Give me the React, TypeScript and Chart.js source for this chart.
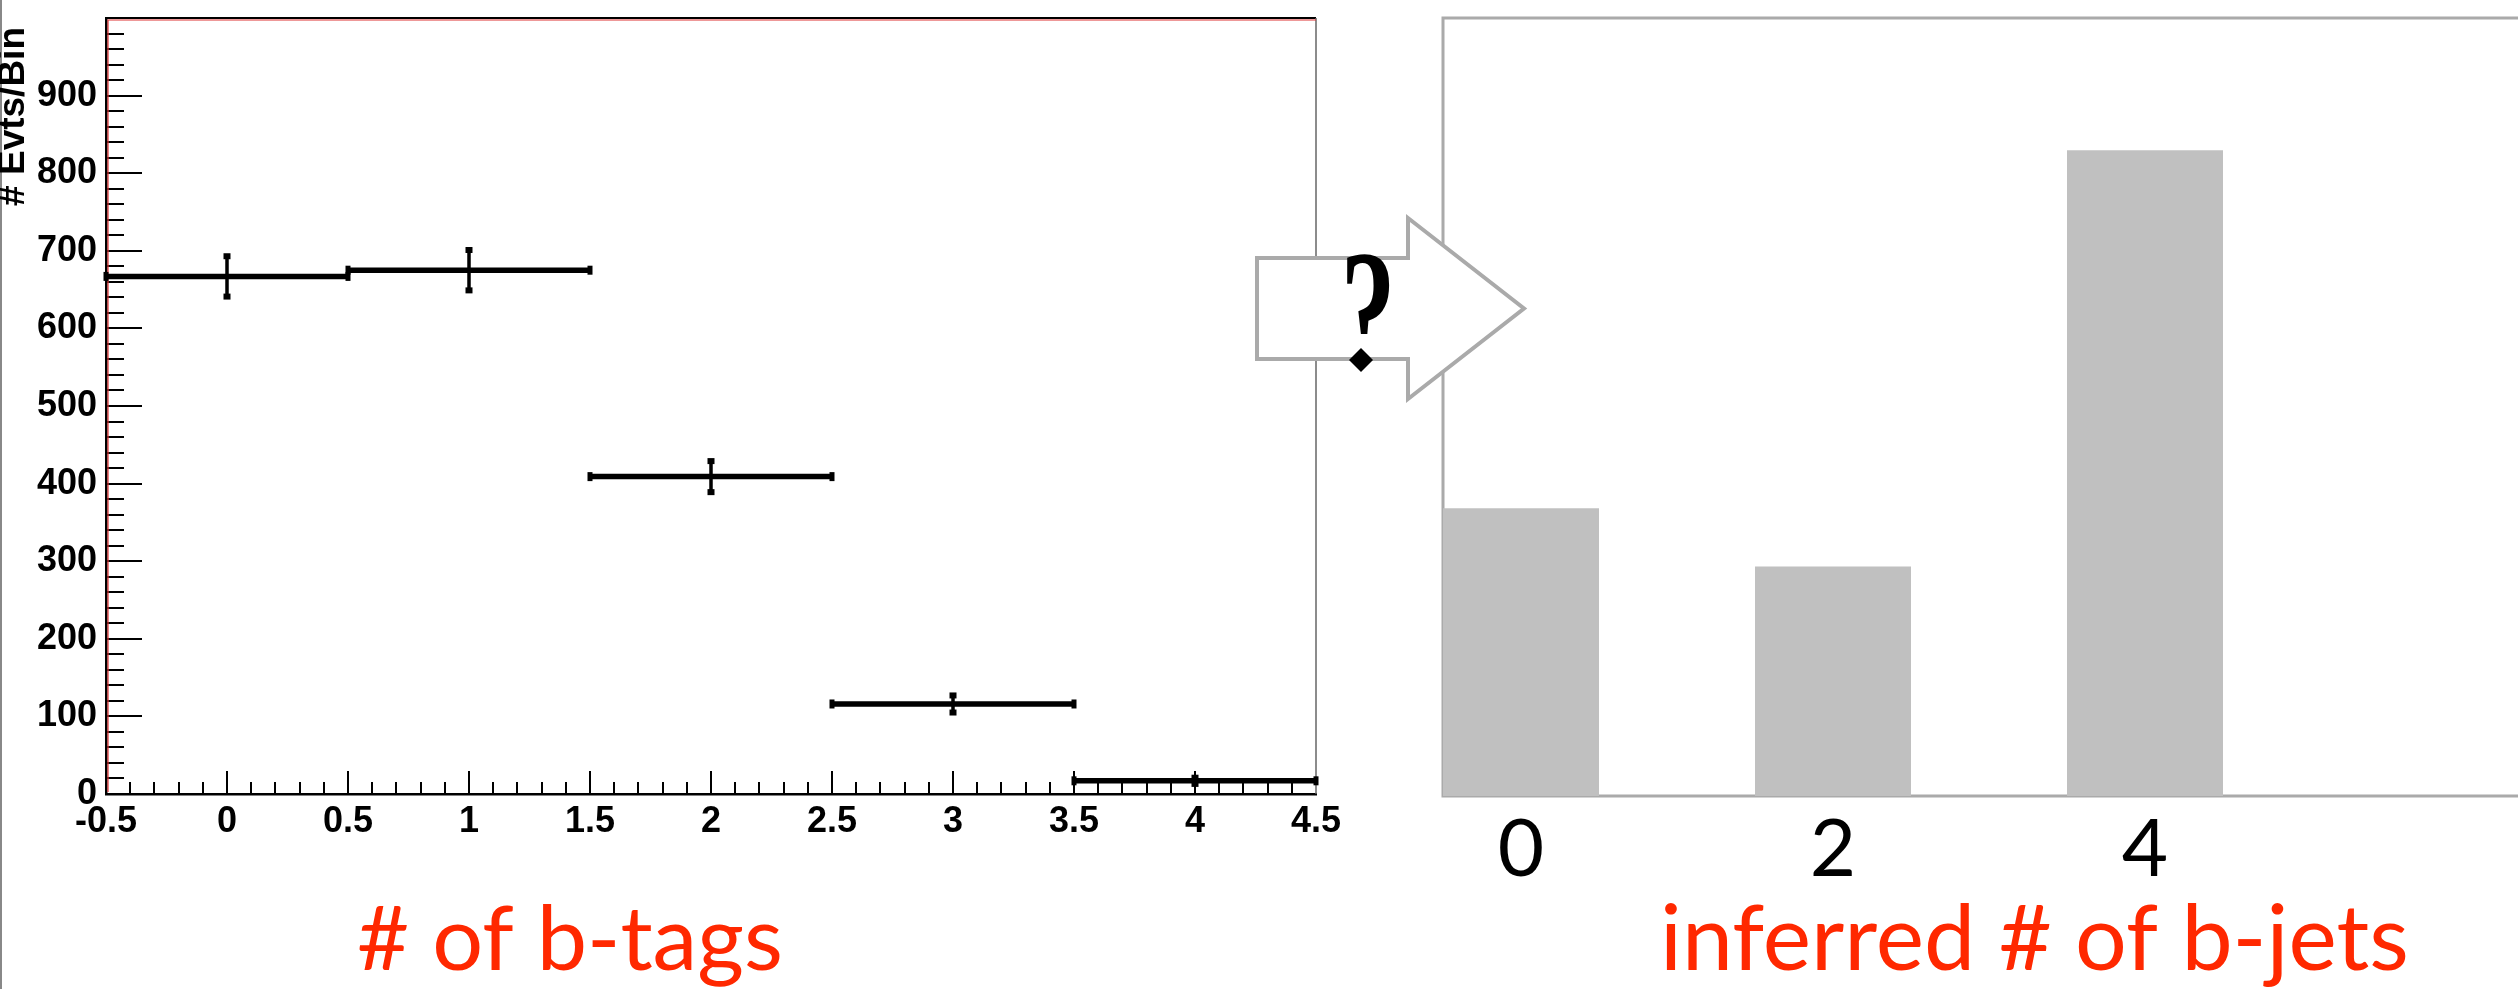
import { useEffect, useRef } from 'react';
import { Chart, registerables } from 'chart.js';

Chart.register(...registerables);

// ---- b-tag multiplicity (left histogram) ----
const tagBinCenters = [0, 1, 2, 3, 4];
const tagBinWidth = 1;
const tagCounts = [667, 675, 409, 116, 17];
const tagErrors = [26, 26, 20, 11, 4];
const tagAxisTicks = [-0.5, 0, 0.5, 1, 1.5, 2, 2.5, 3, 3.5, 4, 4.5];
const countAxisTicks = [0, 100, 200, 300, 400, 500, 600, 700, 800, 900];

// ---- inferred b-jet multiplicity (right histogram) ----
const jetBins = [0, 2, 4];
const jetCounts = [370, 295, 830];
const jetAxisTicks = [0, 2, 4];

const tagTitle = '# of b-tags';
const jetTitle = 'inferred # of b-jets';
const countTitle = '# Evts/Bin';

const RED = '#ff2800';
const AXIS_FONT = 'Liberation Sans';
const TITLE_FONT = 'Lato';

const LEFT_W = 1360;
const RIGHT_X = 1240;
const RIGHT_W = 2518 - RIGHT_X;
const H = 989;

// font size that makes `text` span `width` pixels
function fitFontSize(ctx: CanvasRenderingContext2D, text: string, font: string, width: number) {
  ctx.font = `100px ${font}`;
  return (100 * width) / ctx.measureText(text).width;
}

function buildBinLines() {
  const rows: { x: number; y: number | null }[] = [];
  tagBinCenters.forEach((c, i) => {
    rows.push({ x: c - tagBinWidth / 2, y: tagCounts[i] });
    rows.push({ x: c + tagBinWidth / 2, y: tagCounts[i] });
    rows.push({ x: c + tagBinWidth / 2, y: null });
  });
  return rows;
}

function buildErrorLines() {
  const rows: { x: number; y: number | null }[] = [];
  tagBinCenters.forEach((c, i) => {
    rows.push({ x: c, y: tagCounts[i] - tagErrors[i] });
    rows.push({ x: c, y: tagCounts[i] + tagErrors[i] });
    rows.push({ x: c, y: null });
  });
  return rows;
}

const leftDecor = {
  id: 'leftDecor',
  beforeDatasetsDraw(chart: any) {
    const { ctx, chartArea: a, scales } = chart;
    const x = scales.x;
    const y = scales.y;
    ctx.save();
    // inward tick marks
    ctx.strokeStyle = '#000';
    ctx.lineWidth = 2;
    ctx.beginPath();
    const yMinor = 20;
    const nY = Math.round((y.max - y.min) / yMinor);
    for (let k = 1; k < nY; k++) {
      const v = y.min + k * yMinor;
      const py = Math.round(y.getPixelForValue(v));
      const len = k % 5 === 0 ? 36 : 18;
      ctx.moveTo(a.left, py);
      ctx.lineTo(a.left + len, py);
    }
    const xMinor = 0.1;
    const nX = Math.round((x.max - x.min) / xMinor);
    for (let k = 1; k < nX; k++) {
      const v = x.min + k * xMinor;
      const px = Math.round(x.getPixelForValue(v));
      const len = k % 5 === 0 ? 23 : 12;
      ctx.moveTo(px, a.bottom);
      ctx.lineTo(px, a.bottom - len);
    }
    ctx.stroke();

    // frame: black top, thin grey right side, red inner edges
    ctx.lineWidth = 2;
    ctx.strokeStyle = '#000';
    ctx.beginPath();
    ctx.moveTo(a.left, a.top);
    ctx.lineTo(a.right, a.top);
    ctx.stroke();
    ctx.strokeStyle = '#666';
    ctx.lineWidth = 1.5;
    ctx.beginPath();
    ctx.moveTo(a.right, a.top);
    ctx.lineTo(a.right, a.bottom);
    ctx.stroke();
    ctx.strokeStyle = '#d33';
    ctx.lineWidth = 1.2;
    ctx.beginPath();
    ctx.moveTo(a.right, a.top + 2);
    ctx.lineTo(a.left + 2, a.top + 2);
    ctx.lineTo(a.left + 2, a.bottom - 2);
    ctx.stroke();
    ctx.restore();
  },
  afterDraw(chart: any) {
    const { ctx } = chart;
    ctx.save();
    // page edge rule
    ctx.strokeStyle = '#888';
    ctx.lineWidth = 2;
    ctx.beginPath();
    ctx.moveTo(1, 0);
    ctx.lineTo(1, H);
    ctx.stroke();

    // vertical axis title
    ctx.fillStyle = '#000';
    ctx.font = `bold 37px ${AXIS_FONT}`;
    ctx.translate(24, 27);
    ctx.rotate(-Math.PI / 2);
    ctx.textAlign = 'right';
    ctx.textBaseline = 'alphabetic';
    ctx.fillText(countTitle, 0, 0);
    ctx.restore();

    // red horizontal title
    ctx.save();
    const size = fitFontSize(ctx, tagTitle, TITLE_FONT, 426);
    ctx.font = `${size}px ${TITLE_FONT}`;
    ctx.fillStyle = RED;
    ctx.textAlign = 'left';
    ctx.textBaseline = 'alphabetic';
    ctx.fillText(tagTitle, 357, 970);
    ctx.restore();
  },
};

const rightDecor = {
  id: 'rightDecor',
  beforeDatasetsDraw(chart: any) {
    const { ctx, chartArea: a } = chart;
    ctx.save();
    ctx.strokeStyle = '#aaa';
    ctx.lineWidth = 3;
    ctx.beginPath();
    ctx.moveTo(a.right + 5, a.top);
    ctx.lineTo(a.left, a.top);
    ctx.lineTo(a.left, a.bottom);
    ctx.lineTo(a.right + 5, a.bottom);
    ctx.stroke();
    ctx.restore();
  },
  afterDraw(chart: any) {
    const { ctx } = chart;
    ctx.save();
    // hollow arrow joining the two panels
    const left = 17;
    const base = 168;
    const tipX = 284;
    const midY = 308.5;
    const shaftHalf = 50.5;
    const headHalf = 90.5;
    ctx.beginPath();
    ctx.moveTo(left, midY - shaftHalf);
    ctx.lineTo(base, midY - shaftHalf);
    ctx.lineTo(base, midY - headHalf);
    ctx.lineTo(tipX, midY);
    ctx.lineTo(base, midY + headHalf);
    ctx.lineTo(base, midY + shaftHalf);
    ctx.lineTo(left, midY + shaftHalf);
    ctx.closePath();
    ctx.fillStyle = '#fff';
    ctx.fill();
    ctx.strokeStyle = '#aaa';
    ctx.lineWidth = 4;
    ctx.lineJoin = 'miter';
    ctx.stroke();

    // question mark with a diamond dot
    ctx.save();
    ctx.translate(128, 372);
    ctx.scale(0.62, 1);
    ctx.font = `bold 178px 'Liberation Serif'`;
    ctx.fillStyle = '#000';
    ctx.textAlign = 'center';
    ctx.textBaseline = 'alphabetic';
    ctx.fillText('?', 0, 0);
    ctx.restore();
    ctx.fillStyle = '#fff';
    ctx.fillRect(106, 334, 34, 44);
    ctx.strokeStyle = '#aaa';
    ctx.lineWidth = 4;
    ctx.beginPath();
    ctx.moveTo(left, midY + shaftHalf);
    ctx.lineTo(base, midY + shaftHalf);
    ctx.stroke();
    ctx.fillStyle = '#000';
    ctx.beginPath();
    ctx.moveTo(121, 348);
    ctx.lineTo(133, 360);
    ctx.lineTo(121, 372);
    ctx.lineTo(109, 360);
    ctx.closePath();
    ctx.fill();
    ctx.restore();

    // red horizontal title
    ctx.save();
    const size = fitFontSize(ctx, jetTitle, TITLE_FONT, 749);
    ctx.font = `${size}px ${TITLE_FONT}`;
    ctx.fillStyle = RED;
    ctx.textAlign = 'left';
    ctx.textBaseline = 'alphabetic';
    ctx.fillText(jetTitle, 420, 970);
    ctx.restore();
  },
};

function leftConfig(): any {
  return {
    type: 'line',
    data: {
      datasets: [
        {
          data: buildBinLines(),
          borderColor: '#000',
          borderWidth: 5.5,
          borderCapStyle: 'butt',
          pointStyle: 'line',
          pointRotation: 90,
          pointRadius: 4.5,
          pointBorderWidth: 5,
          pointBorderColor: '#000',
          pointBackgroundColor: '#000',
          spanGaps: false,
          tension: 0,
          clip: 12,
        },
        {
          data: buildErrorLines(),
          borderColor: '#000',
          borderWidth: 3.5,
          borderCapStyle: 'butt',
          pointStyle: 'line',
          pointRotation: 0,
          pointRadius: 3.5,
          pointBorderWidth: 6,
          pointBorderColor: '#000',
          pointBackgroundColor: '#000',
          spanGaps: false,
          tension: 0,
          clip: 12,
        },
      ],
    },
    options: {
      responsive: false,
      animation: false,
      devicePixelRatio: 1,
      events: [],
      layout: { padding: { left: 0, top: 18, right: LEFT_W - 1316, bottom: 0 } },
      plugins: { legend: { display: false }, tooltip: { enabled: false } },
      scales: {
        x: {
          type: 'linear',
          min: -0.5,
          max: 4.5,
          afterFit(s: any) {
            s.height = H - 794;
            s.paddingLeft = 0;
            s.paddingRight = 0;
          },
          afterBuildTicks(s: any) {
            s.ticks = tagAxisTicks.map((v) => ({ value: v }));
          },
          grid: { display: false, drawTicks: false },
          border: { display: true, color: '#000', width: 2.5 },
          ticks: {
            autoSkip: false,
            maxRotation: 0,
            minRotation: 0,
            padding: 6,
            color: '#000',
            font: { family: AXIS_FONT, weight: 'bold', size: 36 },
            callback: (v: number) => String(v),
          },
        },
        y: {
          min: 0,
          max: 1000,
          afterFit(s: any) {
            s.width = 106;
            s.paddingTop = 0;
            s.paddingBottom = 0;
          },
          afterBuildTicks(s: any) {
            s.ticks = countAxisTicks.map((v) => ({ value: v }));
          },
          grid: { display: false, drawTicks: false },
          border: { display: true, color: '#000', width: 2.5 },
          ticks: {
            padding: 9,
            color: '#000',
            font: { family: AXIS_FONT, weight: 'bold', size: 36 },
            callback: (v: number) => String(v),
          },
        },
      },
    },
    plugins: [leftDecor],
  };
}

function rightConfig(): any {
  const plotLeft = 1443 - RIGHT_X;
  const unit = 156;
  return {
    type: 'bar',
    data: {
      datasets: [
        {
          data: jetBins.map((b, i) => ({ x: b, y: jetCounts[i] })),
          backgroundColor: '#c0c0c0',
          borderWidth: 0,
          categoryPercentage: 0.5,
          barPercentage: 1,
        },
      ],
    },
    options: {
      responsive: false,
      animation: false,
      devicePixelRatio: 1,
      events: [],
      layout: { padding: { left: plotLeft, top: 18, right: 0, bottom: 0 } },
      plugins: { legend: { display: false }, tooltip: { enabled: false } },
      scales: {
        x: {
          type: 'linear',
          min: -0.5,
          max: -0.5 + (RIGHT_W - plotLeft) / unit,
          offset: false,
          afterFit(s: any) {
            s.height = H - 796;
            s.paddingLeft = 0;
            s.paddingRight = 0;
          },
          afterBuildTicks(s: any) {
            s.ticks = jetAxisTicks.map((v) => ({ value: v }));
          },
          grid: { display: false, drawTicks: false, offset: false },
          border: { display: false },
          ticks: {
            autoSkip: false,
            maxRotation: 0,
            minRotation: 0,
            padding: 6,
            color: '#000',
            font: { family: TITLE_FONT, size: 80 },
            callback: (v: number) => String(v),
          },
        },
        y: { min: 0, max: 1000, display: false },
      },
    },
    plugins: [rightDecor],
  };
}

export default function App() {
  const leftRef = useRef<HTMLCanvasElement>(null);
  const rightRef = useRef<HTMLCanvasElement>(null);

  useEffect(() => {
    const left = new Chart(leftRef.current!, leftConfig());
    const right = new Chart(rightRef.current!, rightConfig());
    return () => {
      left.destroy();
      right.destroy();
    };
  }, []);

  return (
    <div
      style={{
        position: 'absolute',
        left: 0,
        top: 0,
        width: 2518,
        height: H,
        overflow: 'hidden',
        background: '#fff',
      }}
    >
      <canvas
        ref={leftRef}
        width={LEFT_W}
        height={H}
        style={{ position: 'absolute', left: 0, top: 0, width: LEFT_W, height: H }}
      />
      <canvas
        ref={rightRef}
        width={RIGHT_W}
        height={H}
        style={{ position: 'absolute', left: RIGHT_X, top: 0, width: RIGHT_W, height: H }}
      />
    </div>
  );
}
